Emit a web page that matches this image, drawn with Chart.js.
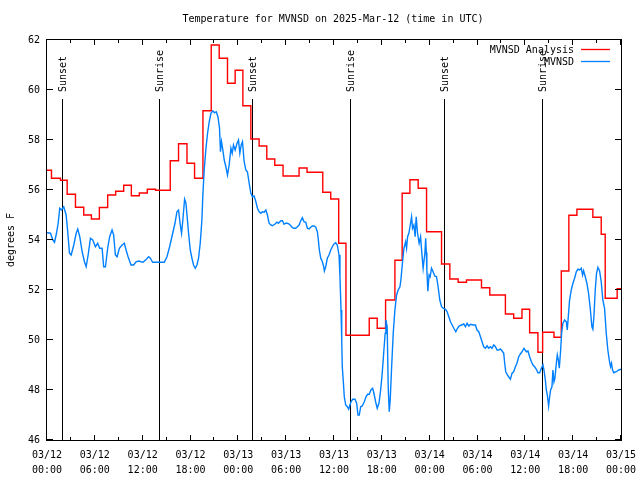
<!DOCTYPE html>
<html>
<head>
<meta charset="utf-8">
<title>Temperature for MVNSD</title>
<script src="https://cdn.jsdelivr.net/npm/chart.js@4"></script>
<style>
  body { margin: 0; background: #fff; }
  canvas { display: block; }
</style>
</head>
<body>
<canvas id="myChart" width="640" height="480"></canvas>
<script>
// hours since 03/12 00:00 UTC, temperatures in degrees F
const analysisHours = [0,0.56,1.69,2.53,3.57,4.61,5.57,6.57,7.61,8.61,
  9.62,10.58,11.58,12.58,13.62,15.46,16.5,17.56,18.51,19.56,
  20.6,21.6,22.64,23.6,24.57,25.57,26.61,27.57,28.57,29.61,
  31.62,32.62,34.59,35.59,36.59,37.5,40.42,41.42,42.47,43.64,
  44.55,45.52,46.56,47.61,49.49,50.53,51.57,52.62,54.5,55.54,
  57.5,58.54,59.58,60.54,61.58,62.17,63.59,64.51,65.46,66.47,
  68.47,69.52,70.02,71.52,72];
const analysisTemps = [56.79,56.47,56.39,55.83,55.31,55.0,54.84,55.3,55.8,55.95,
  56.19,55.77,55.88,56.03,55.99,57.17,57.85,57.07,56.47,59.17,
  61.8,61.27,60.27,60.79,59.37,58.04,57.76,57.24,56.99,56.56,
  56.88,56.71,55.91,55.64,53.87,50.19,50.87,50.47,51.6,53.19,
  55.87,56.41,56.07,54.33,53.04,52.44,52.31,52.4,52.09,51.8,
  51.04,50.87,51.23,50.29,49.51,50.31,50.11,52.76,54.99,55.23,
  54.91,54.23,51.67,52.05,52.05];

const stationHours = [
  0,0.44,0.73,0.94,1.19,1.40,1.60,1.82,2.10,2.40,
  2.60,2.82,3.03,3.36,3.66,3.86,4.11,4.41,4.70,4.91,
  5.16,5.45,5.74,6.07,6.36,6.61,6.91,7.11,7.33,7.61,
  7.86,8.16,8.36,8.58,8.79,9.08,9.42,9.70,9.92,10.17,
  10.54,10.87,11.17,11.50,11.80,12.05,12.46,12.75,12.96,13.25,
  13.80,14.71,15.05,15.38,15.72,16.05,16.30,16.50,16.72,16.88,
  17.06,17.26,17.43,17.56,17.76,17.97,18.18,18.38,18.60,18.81,
  19.01,19.22,19.43,19.56,19.72,19.94,20.14,20.35,20.56,20.81,
  21.01,21.23,21.44,21.64,21.76,21.89,22.06,22.23,22.44,22.64,
  22.85,23.07,23.23,23.39,23.60,23.82,24.02,24.19,24.36,24.52,
  24.73,24.94,25.14,25.36,25.57,25.77,25.98,26.20,26.40,26.61,
  26.82,27.02,27.24,27.45,27.65,27.86,28.07,28.27,28.61,28.83,
  29.03,29.33,29.53,29.74,29.95,30.15,30.37,30.58,30.78,30.99,
  31.20,31.41,31.62,31.83,32.03,32.24,32.46,32.66,32.87,33.08,
  33.28,33.50,33.71,33.91,34.04,34.16,34.34,34.54,34.71,34.79,
  34.96,35.16,35.37,35.59,35.79,36.00,36.21,36.41,36.63,36.75,
  36.88,36.97,37.04,37.17,37.29,37.47,37.67,37.84,38.00,38.13,
  38.34,38.63,38.84,39.01,39.17,39.35,39.54,39.80,40.01,40.22,
  40.42,40.63,40.85,41.01,41.22,41.42,41.64,41.85,42.05,42.26,
  42.42,42.51,42.67,42.80,42.93,43.05,43.23,43.43,43.64,43.85,
  44.05,44.27,44.39,44.60,44.77,44.98,45.10,45.23,45.39,45.60,
  45.73,45.85,46.02,46.18,46.31,46.48,46.68,46.86,47.02,47.18,
  47.40,47.50,47.58,47.65,47.77,47.93,48.06,48.23,48.43,48.64,
  48.86,49.06,49.27,49.49,49.69,49.99,50.19,50.40,50.61,50.82,
  51.03,51.28,51.49,51.69,51.99,52.28,52.49,52.69,52.91,53.12,
  53.44,53.74,53.94,54.16,54.37,54.57,54.78,55.00,55.20,55.41,
  55.62,55.82,56.04,56.25,56.45,56.66,56.87,57.07,57.29,57.41,
  57.54,57.75,57.95,58.13,58.33,58.54,58.75,58.95,59.17,59.38,
  59.58,59.83,60.13,60.33,60.54,60.76,60.96,61.17,61.38,61.58,
  61.80,62.01,62.21,62.34,62.51,62.63,62.76,62.92,63.05,63.17,
  63.34,63.46,63.59,63.71,63.89,64.01,64.14,64.26,64.43,64.55,
  64.71,64.93,65.14,65.26,65.39,65.55,65.76,65.97,66.18,66.39,
  66.59,66.81,67.02,67.18,67.31,67.52,67.72,67.93,68.14,68.35,
  68.47,68.60,68.77,68.93,69.10,69.31,69.52,69.72,69.94,70.15,
  70.35,70.56,70.69,70.81,70.94,71.10,71.40,71.72,72.0];
const stationTemps = [
  54.29,54.27,54.0,53.91,54.27,54.67,55.27,55.2,55.33,55.0,
  54.33,53.47,53.4,53.8,54.27,54.44,54.13,53.53,53.13,52.93,
  53.4,54.07,54.0,53.73,53.87,53.67,53.67,52.93,52.93,53.67,
  54.13,54.4,54.2,53.4,53.33,53.67,53.8,53.87,53.6,53.33,
  53.0,53.0,53.13,53.16,53.13,53.11,53.23,53.33,53.27,53.11,
  53.11,53.11,53.33,53.73,54.2,54.67,55.13,55.2,54.6,54.27,
  54.87,55.63,55.47,55.0,54.27,53.6,53.27,53.0,52.87,53.0,
  53.27,53.87,54.8,55.87,56.8,57.67,58.27,58.73,59.07,59.17,
  59.09,59.13,58.93,58.47,57.53,57.93,57.6,57.2,56.93,56.6,
  57.0,57.67,57.47,57.8,57.6,57.85,58.0,57.47,57.8,57.93,
  57.13,56.8,56.73,56.27,55.87,55.73,55.76,55.53,55.27,55.13,
  55.07,55.13,55.11,55.2,55.0,54.67,54.6,54.57,54.64,54.71,
  54.67,54.77,54.77,54.63,54.67,54.67,54.64,54.57,54.49,54.47,
  54.47,54.53,54.6,54.77,54.89,54.73,54.71,54.47,54.44,54.51,
  54.56,54.56,54.51,54.33,54.0,53.6,53.27,53.13,52.93,52.76,
  52.93,53.27,53.4,53.6,53.73,53.84,53.89,53.8,53.4,52.53,
  51.2,50.0,48.93,48.33,47.73,47.4,47.33,47.23,47.4,47.53,
  47.63,47.63,47.47,47.0,47.0,47.33,47.36,47.53,47.73,47.83,
  47.83,48.0,48.07,47.87,47.53,47.27,47.47,48.0,48.67,49.6,
  50.27,50.8,50.53,48.13,47.13,47.6,48.93,50.27,51.2,51.8,
  52.0,52.13,52.4,53.13,53.67,53.93,53.67,54.13,54.27,54.67,
  54.93,54.47,54.6,54.13,54.93,54.27,53.87,54.13,53.47,52.87,
  53.47,54.07,53.5,52.8,51.95,52.6,52.53,52.87,52.73,52.56,
  52.53,52.13,51.6,51.33,51.27,51.23,51.13,50.93,50.73,50.6,
  50.47,50.33,50.47,50.56,50.6,50.64,50.53,50.67,50.56,50.63,
  50.6,50.6,50.4,50.33,50.13,49.93,49.73,49.67,49.77,49.67,
  49.73,49.67,49.8,49.73,49.6,49.6,49.64,49.57,49.47,49.07,
  48.73,48.6,48.51,48.43,48.67,48.73,48.93,49.07,49.33,49.44,
  49.53,49.67,49.53,49.56,49.33,49.13,49.0,48.93,48.83,48.69,
  48.69,48.87,49.0,48.8,48.4,48.0,47.8,47.36,47.73,48.0,
  48.13,48.8,48.33,48.47,49.07,49.4,49.2,48.87,49.6,50.27,
  50.67,50.8,50.73,50.4,50.93,51.6,52.0,52.27,52.47,52.73,
  52.83,52.8,52.87,52.6,52.77,52.53,52.27,51.87,51.27,50.53,
  50.43,50.93,52.0,52.67,52.91,52.77,52.33,51.6,51.27,50.27,
  49.6,49.13,48.93,49.07,48.8,48.69,48.73,48.8,48.83];

// axis ticks
const tickHours = [0, 6, 12, 18, 24, 30, 36, 42, 48, 54, 60, 66, 72];
const tickDates = ["03/12","03/12","03/12","03/12","03/13","03/13","03/13","03/13","03/14","03/14","03/14","03/14","03/15"];
const tickTimes = ["00:00","06:00","12:00","18:00","00:00","06:00","12:00","18:00","00:00","06:00","12:00","18:00","00:00"];
const tempTicks = [46, 48, 50, 52, 54, 56, 58, 60, 62];

// sun events
const sunEvents = ["Sunset", "Sunrise", "Sunset", "Sunrise", "Sunset", "Sunrise"];
const sunHours = [1.85, 14.0, 25.77, 38.04, 49.81, 62.08];

const titleText = "Temperature for MVNSD on 2025-Mar-12 (time in UTC)";
const yTitle = "degrees F";
const seriesNames = ["MVNSD Analysis", "MVNSD"];
const seriesColors = ["#ff0000", "#0080ff"];

const FONT = '10px "DejaVu Sans Mono", "Liberation Mono", monospace';

function toPoints(xs, ys) {
  const pts = [];
  for (let i = 0; i < xs.length; i++) {
    pts.push({ x: xs[i], y: ys[i] });
  }
  return pts;
}

// gnuplot-like frame, ticks, labels and sun markers
const gnuplotLook = {
  id: "gnuplotLook",
  beforeDatasetsDraw(chart) {
    const ctx = chart.ctx;
    const xs = chart.scales.x;
    const area = chart.chartArea;
    ctx.save();
    ctx.font = FONT;
    ctx.fillStyle = "#000";
    ctx.strokeStyle = "#000";
    ctx.lineWidth = 1;
    for (let i = 0; i < sunHours.length; i++) {
      const px = Math.round(xs.getPixelForValue(sunHours[i])) + 0.5;
      ctx.beginPath();
      ctx.moveTo(px, 99);
      ctx.lineTo(px, area.bottom);
      ctx.stroke();
      ctx.save();
      ctx.translate(px + 1, 92);
      ctx.rotate(-Math.PI / 2);
      ctx.textAlign = "left";
      ctx.textBaseline = "middle";
      ctx.fillText(sunEvents[i], 0, 0);
      ctx.restore();
    }
    ctx.restore();
  },
  afterDraw(chart) {
    const ctx = chart.ctx;
    const xs = chart.scales.x;
    const ys = chart.scales.y;
    const a = chart.chartArea;
    ctx.save();
    ctx.strokeStyle = "#000";
    ctx.fillStyle = "#000";
    ctx.lineWidth = 1;
    ctx.font = FONT;

    // frame
    ctx.strokeRect(Math.round(a.left) - 0.5, Math.round(a.top) - 0.5,
      Math.round(a.right - a.left) + 1, Math.round(a.bottom - a.top) + 1);

    // y ticks, both sides
    ctx.textAlign = "right";
    ctx.textBaseline = "middle";
    tempTicks.forEach(function (t) {
      const py = Math.round(ys.getPixelForValue(t)) - 0.5;
      ctx.beginPath();
      ctx.moveTo(a.left, py); ctx.lineTo(a.left + 6, py);
      ctx.moveTo(a.right, py); ctx.lineTo(a.right - 6, py);
      ctx.stroke();
      ctx.fillText(String(t), 40, py + 0.5);
    });

    // x ticks, major every 6 h and minor every 3 h
    for (let h = 0; h <= 72; h += 3) {
      const px = Math.round(xs.getPixelForValue(h)) - 0.5;
      const len = h % 6 === 0 ? 5 : 3;
      ctx.beginPath();
      ctx.moveTo(px, a.bottom); ctx.lineTo(px, a.bottom - len);
      ctx.moveTo(px, a.top); ctx.lineTo(px, a.top + len);
      ctx.stroke();
    }
    ctx.textAlign = "center";
    for (let i = 0; i < tickHours.length; i++) {
      const px = xs.getPixelForValue(tickHours[i]);
      ctx.fillText(tickDates[i], px, 455);
      ctx.fillText(tickTimes[i], px, 470);
    }

    // title
    ctx.fillText(titleText, 333, 19);

    // y axis title
    ctx.save();
    ctx.translate(11, 240);
    ctx.rotate(-Math.PI / 2);
    ctx.fillText(yTitle, 0, 0);
    ctx.restore();

    // legend
    ctx.textAlign = "right";
    const legendY = [50, 62];
    for (let i = 0; i < seriesNames.length; i++) {
      ctx.fillStyle = "#000";
      ctx.fillText(seriesNames[i], 574, legendY[i]);
      ctx.strokeStyle = seriesColors[i];
      ctx.lineWidth = 1.3;
      ctx.beginPath();
      ctx.moveTo(581, legendY[i] - 0.5);
      ctx.lineTo(610, legendY[i] - 0.5);
      ctx.stroke();
    }
    ctx.restore();
  }
};

new Chart(document.getElementById("myChart"), {
  type: "line",
  data: {
    datasets: [
      {
        label: seriesNames[1],
        data: toPoints(stationHours, stationTemps),
        borderColor: seriesColors[1],
        borderWidth: 1.4,
        pointRadius: 0,
        tension: 0
      },
      {
        label: seriesNames[0],
        data: toPoints(analysisHours, analysisTemps),
        borderColor: seriesColors[0],
        borderWidth: 1.4,
        pointRadius: 0,
        stepped: true
      }
    ]
  },
  options: {
    responsive: false,
    animation: false,
    devicePixelRatio: 1,
    layout: { padding: { left: 47, right: 19, top: 40, bottom: 40 } },
    plugins: {
      legend: { display: false },
      title: { display: false },
      tooltip: { enabled: false }
    },
    scales: {
      x: { type: "linear", min: 0, max: 72, display: false },
      y: { min: 46, max: 62, display: false }
    }
  },
  plugins: [gnuplotLook]
});
</script>
</body>
</html>
